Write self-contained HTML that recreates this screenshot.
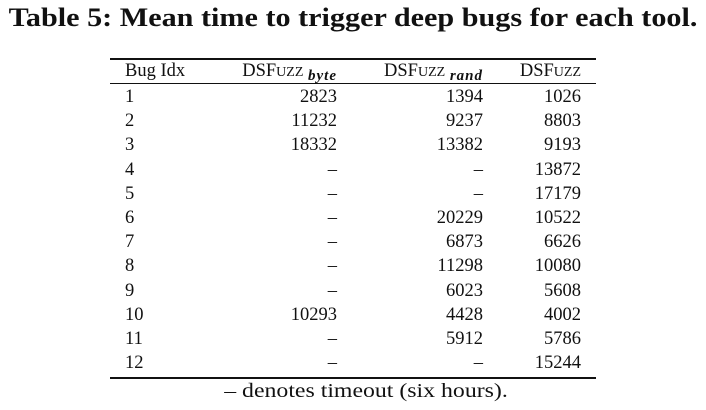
<!DOCTYPE html>
<html><head><meta charset="utf-8"><style>
body{margin:0;width:706px;height:410px;background:#fff;font-family:"Liberation Serif",serif;color:#111;position:relative;overflow:hidden}
.a{position:absolute;white-space:nowrap}
#title{left:0;width:706px;text-align:center;top:3px;font-size:26px;font-weight:bold;transform:scaleX(1.16);transform-origin:353px 0}
.rule{position:absolute;left:110px;width:486px;background:#111}
.c{position:absolute;font-size:18.5px;line-height:24px;white-space:nowrap}
.r{text-align:right}
.sc{font-size:14px}
sub{font-style:italic;font-size:15px;font-weight:bold;vertical-align:-4px;letter-spacing:1px}
</style></head><body>
<div id="title" class="a">Table 5: Mean time to trigger deep bugs for each tool.</div>
<div class="rule" style="top:58px;height:1.5px"></div>
<div class="rule" style="top:83px;height:1px"></div>
<div class="rule" style="top:377px;height:1.5px"></div>
<div class="c" style="left:125px;top:59px">Bug Idx</div>
<div class="c r" style="right:369px;top:59px">DSF<span class="sc">UZZ</span> <sub>byte</sub></div>
<div class="c r" style="right:223px;top:59px">DSF<span class="sc">UZZ</span> <sub>rand</sub></div>
<div class="c r" style="right:125px;top:59px">DSF<span class="sc">UZZ</span></div>
<div id="rows"></div>
<div class="c" style="left:13px;width:706px;text-align:center;top:379px;font-size:20px;transform:scaleX(1.19);transform-origin:353px 0">– denotes timeout (six hours).</div>
<script>
const bugIdx=["1","2","3","4","5","6","7","8","9","10","11","12"];
const byteVals=["2823","11232","18332","–","–","–","–","–","–","10293","–","–"];
const randVals=["1394","9237","13382","–","–","20229","6873","11298","6023","4428","5912","–"];
const fullVals=["1026","8803","9193","13872","17179","10522","6626","10080","5608","4002","5786","15244"];
const rows=document.getElementById('rows');
function cell(txt,style,name){const d=document.createElement('div');d.className='c'+(style.right?' r':'');Object.assign(d.style,style);d.textContent=txt;


rows.appendChild(d);}
bugIdx.forEach((b,i)=>{const top=(85+i*24.2)+'px';
cell(b,{left:'125px',top},'bug-idx-'+b);
cell(byteVals[i],{right:'369px',top},'byte-'+b);
cell(randVals[i],{right:'223px',top},'rand-'+b);
cell(fullVals[i],{right:'125px',top},'dsfuzz-'+b);});
</script>
</body></html>
